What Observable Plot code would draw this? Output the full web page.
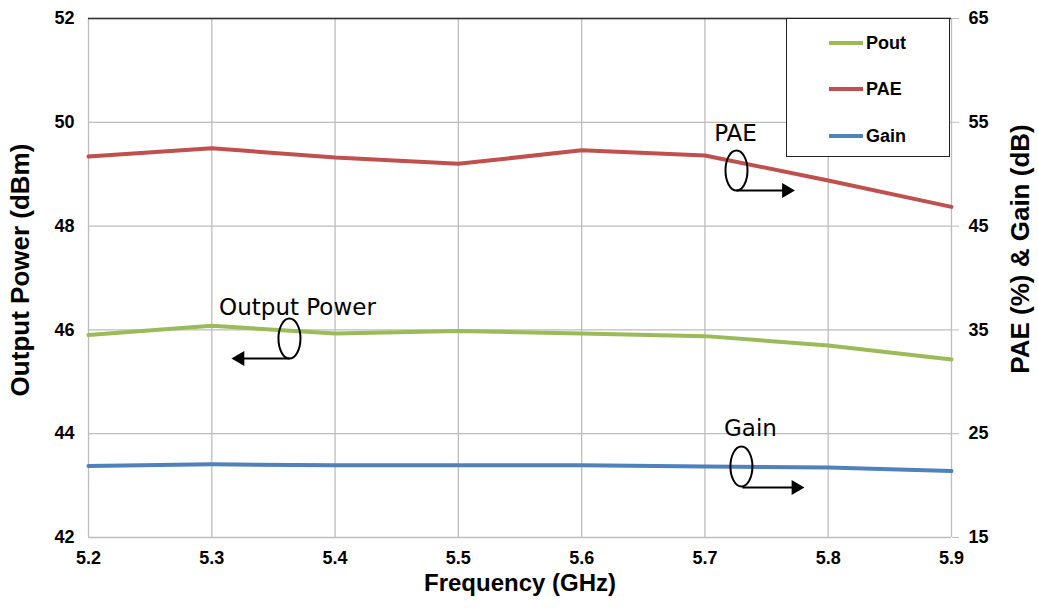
<!DOCTYPE html>
<html>
<head>
<meta charset="utf-8">
<script src="https://cdn.jsdelivr.net/npm/d3@7"></script>
<script src="https://cdn.jsdelivr.net/npm/@observablehq/plot@0.6"></script>
<style>
  html, body { margin: 0; padding: 0; background: #fff; }
  #wrap { position: relative; width: 1038px; height: 608px; font-family: "Liberation Sans", Arial, sans-serif; }
  #legend { position: absolute; left: 786px; top: 18px; width: 164px; height: 139px; border: 1.5px solid #222; background: #fff; box-sizing: border-box; }
  .item { position: absolute; left: 42px; height: 24px; display: flex; align-items: center; font-weight: bold; font-size: 18px; color: #000; }
  .sw { display: inline-block; width: 34px; height: 4px; margin-right: 3px; }
</style>
</head>
<body>
<div id="wrap"></div>
<script>
// ---- data ----
const freq = [5.2, 5.3, 5.4, 5.5, 5.6, 5.7, 5.8, 5.9];
const pout = [45.90, 46.08, 45.93, 45.98, 45.93, 45.88, 45.70, 45.43];   // dBm (left axis)
const pae  = [51.7, 52.5, 51.6, 51.0, 52.3, 51.8, 49.4, 46.85];          // % (right axis)
const gain = [21.9, 22.05, 21.95, 21.95, 21.95, 21.85, 21.75, 21.4];     // dB (right axis)

const leftTicks  = [42, 44, 46, 48, 50, 52];
const rightTicks = [15, 25, 35, 45, 55, 65];
const seriesNames  = ["Pout", "PAE", "Gain"];
const seriesColors = ["#9bbb59", "#c0504d", "#4f81bd"];

// annotations (in frequency / dBm coordinates)
const annoText  = ["PAE", "Output Power", "Gain"];
const annoTextX = [5.7248, 5.3695, 5.7369];
const annoTextY = [49.784, 46.432, 44.10];
const ellX = [5.7256, 5.3630, 5.7296];
const ellY = [49.071, 45.834, 43.368];
const arrX1 = [5.7256, 5.3630, 5.7304];
const arrX2 = [5.7661, 5.3229, 5.7738];
const arrY  = [48.686, 45.449, 42.963];
const arrRot = [90, -90, 90];

// right-axis value -> left-axis position
const toLeft = v => 42 + (v - 15) / 5;
const toRight = d => Math.round((d - 42) * 5 + 15);

const rows = [];
freq.forEach((f, i) => {
  rows.push({f, y: pout[i], s: "Pout"});
  rows.push({f, y: toLeft(pae[i]), s: "PAE"});
  rows.push({f, y: toLeft(gain[i]), s: "Gain"});
});
const annos = annoText.map((t, i) => ({t, tx: annoTextX[i], ty: annoTextY[i], ex: ellX[i], ey: ellY[i], x1: arrX1[i], x2: arrX2[i], ay: arrY[i], rot: arrRot[i]}));

// elliptical symbol (rx 11, ry 20)
const ellipseSymbol = {
  draw(ctx) {
    const rx = 11, ry = 20, k = 0.5523;
    ctx.moveTo(rx, 0);
    ctx.bezierCurveTo(rx, k * ry, k * rx, ry, 0, ry);
    ctx.bezierCurveTo(-k * rx, ry, -rx, k * ry, -rx, 0);
    ctx.bezierCurveTo(-rx, -k * ry, -k * rx, -ry, 0, -ry);
    ctx.bezierCurveTo(k * rx, -ry, rx, -k * ry, rx, 0);
    ctx.closePath();
  }
};

const chart = Plot.plot({
  width: 1038,
  height: 608,
  marginLeft: 88,
  marginRight: 87,
  marginTop: 18,
  marginBottom: 71,
  style: {fontFamily: "'Liberation Sans', Arial, sans-serif", background: "#fff", color: "#000"},
  x: {domain: [5.2, 5.9]},
  y: {domain: [42, 52]},
  color: {domain: seriesNames, range: seriesColors},
  marks: [
    Plot.gridX(freq, {stroke: "#bdbdbd", strokeOpacity: 1, strokeWidth: 1.3}),
    Plot.gridY(leftTicks, {stroke: "#bdbdbd", strokeOpacity: 1, strokeWidth: 1.3}),
    Plot.ruleY([52], {stroke: "#333", strokeWidth: 1.5}),
    Plot.axisX({ticks: freq, tickFormat: d3.format(".1f"), tickSize: 0, tickPadding: 14, fontSize: 18, fontWeight: "bold", label: null}),
    Plot.axisY({ticks: leftTicks, tickSize: 0, tickPadding: 14, fontSize: 18, fontWeight: "bold", label: null}),
    Plot.axisY({anchor: "right", ticks: rightTicks.map(toLeft), tickFormat: toRight, tickSize: 7, tickPadding: 10, stroke: "#bdbdbd", fontSize: 18, fontWeight: "bold", label: null}),
    Plot.line(rows, {x: "f", y: "y", z: "s", stroke: "s", strokeWidth: 4}),
    // annotations
    Plot.text(annos, {x: "tx", y: "ty", text: "t", fontSize: 23, fontFamily: "'DejaVu Sans', sans-serif", fill: "#000"}),
    Plot.dot(annos, {x: "ex", y: "ey", symbol: ellipseSymbol, r: 20, stroke: "#000", strokeWidth: 2, fill: "none"}),
    Plot.link(annos, {x1: "x1", x2: "x2", y1: "ay", y2: "ay", stroke: "#000", strokeWidth: 2}),
    Plot.dot(annos, {x: "x2", y: "ay", symbol: "triangle", r: 5.5, rotate: "rot", fill: "#000", stroke: "none"}),
    // axis titles
    Plot.text(["Frequency (GHz)"], {frameAnchor: "bottom", dy: 53, text: d => d, textAnchor: "middle", fontSize: 24, fontWeight: "bold", ariaLabel: "xtitle"}),
    Plot.text(["Output Power (dBm)"], {frameAnchor: "left", dx: -68, dy: -8, rotate: -90, textAnchor: "middle", text: d => d, fontSize: 26, fontWeight: "bold", ariaLabel: "ytitle"}),
    Plot.text(["PAE (%) & Gain (dB)"], {frameAnchor: "right", dx: 69, dy: -29, rotate: -90, textAnchor: "middle", text: d => d, fontSize: 26, fontWeight: "bold", ariaLabel: "rtitle"})
  ]
});

d3.select(chart).selectAll('g[aria-label="xtitle"] text').attr("textLength", 189).attr("lengthAdjust", "spacingAndGlyphs");
d3.select(chart).selectAll('g[aria-label="ytitle"] text').attr("textLength", 277).attr("lengthAdjust", "spacingAndGlyphs");
d3.select(chart).selectAll('g[aria-label="rtitle"] text').attr("textLength", 280).attr("lengthAdjust", "spacingAndGlyphs");

const wrap = document.getElementById("wrap");
wrap.appendChild(chart);

// legend
const legend = document.createElement("div");
legend.id = "legend";
const rowTops = [12, 58, 105];
seriesNames.forEach((name, i) => {
  const it = document.createElement("div");
  it.className = "item";
  it.style.top = rowTops[i] + "px";
  const sw = document.createElement("span");
  sw.className = "sw";
  sw.style.background = seriesColors[i];
  it.appendChild(sw);
  it.appendChild(document.createTextNode(name));
  legend.appendChild(it);
});
wrap.appendChild(legend);
</script>
</body>
</html>
